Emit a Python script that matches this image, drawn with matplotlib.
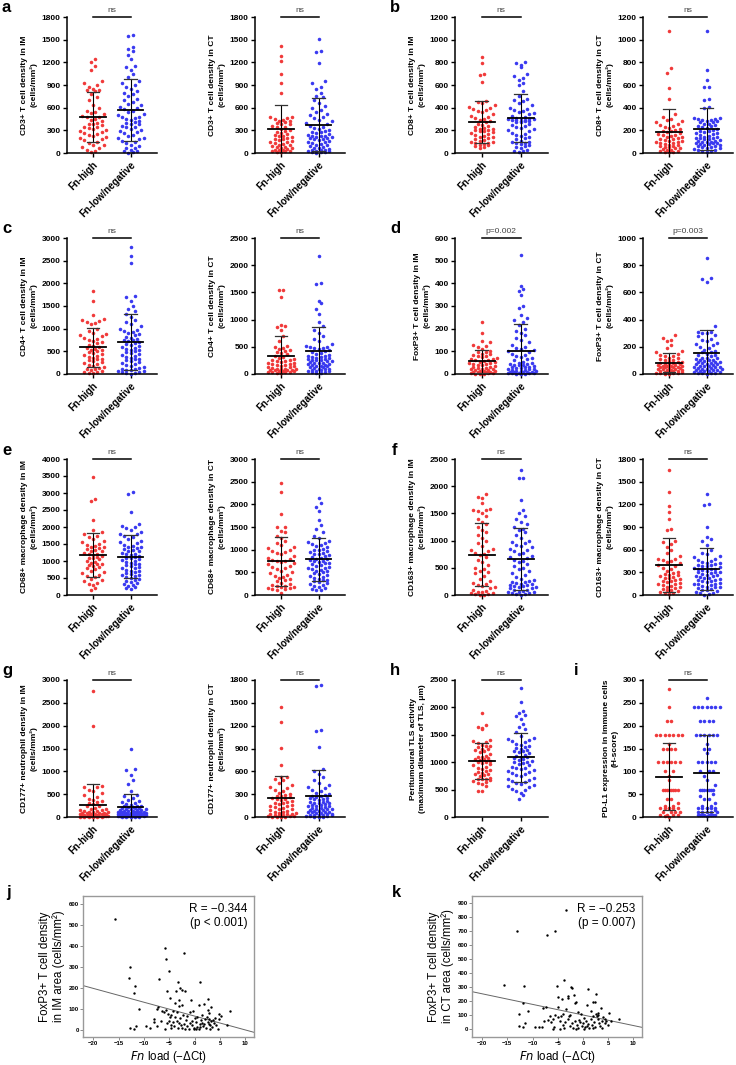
import numpy as np
import matplotlib
matplotlib.use('Agg')
from matplotlib import pyplot as plt

plt.rcParams['font.family'] = ['Liberation Sans', 'DejaVu Sans']

groups = ['Fn-high', 'Fn-low/negative']
red = '#f03a3a'
blue = '#3a3af0'

# ---- data (cells/mm2 etc.) ----
cd3_im_high = [1250, 1200, 1150, 1100, 950, 920, 900, 870, 850, 840, 830, 820, 780, 740, 700, 640, 600, 560, 540, 530,
               510, 490, 480, 470, 450, 440, 420, 400, 390, 380, 370, 350, 340, 330, 320, 300, 290, 280, 260, 250,
               240, 230, 210, 200, 190, 170, 150, 130, 110, 100, 80, 60, 40, 20, 10]
cd3_im_low = [1560, 1555, 1400, 1380, 1350, 1300, 1250, 1150, 1140, 1100, 1050, 1000, 950, 930, 900, 880, 850, 820, 800, 780,
              750, 720, 700, 680, 650, 630, 610, 600, 580, 560, 540, 520, 500, 480, 470, 460, 450, 440, 420, 410,
              400, 390, 380, 360, 350, 340, 320, 300, 290, 280, 260, 240, 220, 200, 200, 180, 160, 150, 130, 110,
              90, 70, 60, 40, 30, 20, 10, 5]
cd3_ct_high = [1410, 1280, 1220, 1050, 930, 790, 480, 470, 460, 450, 440, 430, 420, 410, 400, 390, 380, 360, 350, 340,
               320, 300, 290, 280, 260, 250, 240, 230, 220, 210, 200, 190, 180, 170, 160, 150, 140, 130, 120, 110,
               100, 90, 80, 75, 70, 60, 50, 45, 40, 35, 30, 25, 20, 15, 10]
cd3_ct_low = [1510, 1350, 1340, 1190, 950, 920, 880, 850, 800, 760, 740, 700, 660, 620, 600, 570, 540, 520, 500, 480,
              460, 440, 420, 400, 380, 360, 340, 320, 300, 290, 280, 260, 250, 240, 230, 225, 220, 215, 210, 205,
              200, 190, 180, 170, 160, 150, 140, 130, 120, 110, 100, 90, 80, 70, 60, 50, 45, 40, 35, 30,
              25, 20, 15, 10, 10, 5, 280, 330]
cd8_im_high = [850, 790, 700, 690, 625, 460, 450, 440, 420, 410, 400, 390, 380, 370, 360, 340, 330, 320, 310, 300,
               290, 280, 270, 260, 250, 240, 230, 220, 215, 210, 205, 200, 195, 190, 185, 180, 170, 160, 150, 145,
               140, 130, 120, 115, 110, 100, 95, 90, 85, 80, 75, 70, 60, 50, 40]
cd8_im_low = [800, 790, 780, 760, 700, 680, 660, 640, 620, 600, 550, 500, 480, 470, 460, 440, 420, 400, 390, 380,
              370, 360, 350, 340, 330, 320, 310, 300, 300, 295, 290, 285, 280, 275, 270, 260, 250, 240, 230, 220,
              210, 200, 190, 180, 170, 160, 150, 140, 130, 120, 110, 100, 95, 90, 85, 80, 70, 60, 50, 40,
              30, 20, 15, 10, 290, 300, 310, 280]
cd8_ct_high = [1080, 750, 710, 575, 475, 340, 320, 300, 290, 280, 270, 260, 250, 240, 230, 220, 210, 200, 195, 190,
               185, 180, 170, 160, 155, 150, 145, 140, 130, 125, 120, 115, 110, 105, 100, 95, 90, 85, 80, 75,
               70, 65, 60, 55, 50, 45, 40, 35, 30, 25, 20, 15, 10, 8, 5]
cd8_ct_low = [1075, 730, 645, 585, 580, 480, 470, 410, 400, 310, 305, 300, 300, 295, 290, 285, 280, 275, 270, 260,
              250, 240, 230, 220, 210, 200, 195, 190, 185, 180, 175, 170, 160, 150, 145, 140, 135, 130, 120, 115,
              110, 105, 100, 95, 90, 85, 80, 75, 70, 65, 60, 55, 50, 45, 40, 35, 30, 25, 20, 15,
              10, 100, 90, 80, 120, 130, 260, 240]
cd4_im_high = [1830, 1600, 1300, 1220, 1200, 1180, 1150, 1120, 1100, 1000, 950, 900, 880, 860, 840, 800, 780, 760, 720, 700,
               680, 650, 620, 600, 580, 560, 540, 520, 500, 480, 460, 440, 420, 400, 380, 360, 340, 320, 300, 280,
               260, 240, 220, 200, 180, 160, 140, 120, 100, 90, 70, 50, 40, 30, 20]
cd4_im_low = [2810, 2600, 2440, 1730, 1700, 1600, 1500, 1430, 1400, 1320, 1250, 1200, 1150, 1100, 1050, 1000, 980, 950, 920, 900,
              880, 850, 820, 800, 780, 760, 740, 720, 700, 680, 660, 640, 620, 600, 580, 560, 540, 520, 500, 480,
              460, 440, 420, 400, 380, 360, 340, 320, 300, 280, 260, 240, 220, 200, 180, 160, 140, 120, 100, 90,
              80, 70, 60, 50, 40, 30, 20, 10]
cd4_ct_high = [1540, 1535, 1420, 900, 880, 860, 800, 700, 600, 520, 500, 480, 460, 440, 420, 400, 380, 360, 340, 320,
               300, 280, 260, 250, 240, 230, 220, 210, 200, 190, 180, 170, 160, 150, 140, 130, 120, 110, 100, 95,
               90, 85, 80, 75, 70, 65, 60, 55, 50, 45, 40, 35, 30, 25, 20]
cd4_ct_low = [2170, 1680, 1650, 1350, 1300, 1200, 1100, 950, 880, 800, 750, 700, 650, 600, 560, 520, 500, 490, 480, 470,
              460, 440, 420, 400, 380, 360, 340, 320, 300, 290, 280, 270, 260, 250, 240, 230, 220, 210, 200, 190,
              180, 170, 160, 150, 140, 130, 120, 110, 100, 90, 80, 70, 60, 50, 40, 30, 20, 10, 350, 330,
              310, 250, 200, 150, 100, 60]
foxp3_im_high = [228, 180, 145, 140, 130, 125, 120, 110, 100, 98, 95, 90, 88, 85, 80, 78, 75, 70, 68, 65,
                 62, 60, 58, 55, 52, 50, 48, 45, 42, 40, 38, 35, 32, 30, 28, 26, 24, 22, 20, 18,
                 16, 15, 14, 12, 10, 9, 8, 7, 6, 5, 4, 3, 2, 1, 0]
foxp3_im_low = [523, 390, 375, 365, 350, 300, 290, 260, 245, 240, 230, 215, 200, 190, 180, 170, 160, 150, 140, 130,
                120, 115, 110, 105, 100, 95, 90, 85, 80, 75, 70, 65, 60, 55, 50, 45, 42, 40, 38, 35,
                32, 30, 28, 25, 22, 20, 18, 16, 14, 12, 10, 9, 8, 7, 6, 5, 4, 3, 2, 1,
                0, 50, 40, 30, 20, 15, 10, 5]
foxp3_ct_high = [285, 265, 250, 240, 215, 190, 170, 160, 150, 140, 135, 130, 120, 115, 110, 105, 100, 95, 90, 85,
                 80, 78, 75, 72, 70, 68, 65, 62, 60, 58, 55, 52, 50, 48, 45, 42, 40, 38, 35, 32,
                 30, 28, 25, 22, 20, 18, 15, 12, 10, 8, 6, 4, 2, 0, 60]
foxp3_ct_low = [855, 705, 695, 675, 350, 310, 310, 305, 300, 290, 280, 260, 250, 240, 230, 220, 210, 200, 190, 180,
                170, 160, 150, 140, 130, 120, 115, 110, 105, 100, 95, 90, 85, 80, 75, 70, 65, 60, 55, 50,
                45, 40, 35, 30, 25, 20, 15, 10, 5, 0, 100, 90, 80, 70, 60, 50, 40, 30, 20, 10,
                5, 120, 140, 160, 60, 45, 30, 15]
cd68_im_high = [3480, 2820, 2760, 2220, 1920, 1850, 1800, 1750, 1700, 1650, 1600, 1550, 1500, 1480, 1450, 1420, 1400, 1380, 1350, 1320,
                1300, 1280, 1250, 1220, 1200, 1180, 1150, 1120, 1100, 1080, 1050, 1000, 980, 950, 920, 900, 880, 850, 820, 800,
                760, 720, 680, 640, 600, 560, 520, 480, 440, 400, 360, 320, 280, 200, 150]
cd68_im_low = [3040, 2980, 2440, 2080, 2040, 2000, 1960, 1900, 1850, 1800, 1780, 1750, 1700, 1650, 1600, 1560, 1520, 1480, 1450, 1420,
               1400, 1380, 1350, 1320, 1300, 1280, 1250, 1220, 1200, 1180, 1150, 1120, 1100, 1080, 1050, 1020, 1000, 980, 950, 920,
               900, 880, 850, 820, 800, 780, 750, 720, 700, 680, 650, 620, 600, 580, 550, 520, 500, 470, 440, 410,
               380, 350, 320, 290, 260, 230, 200, 180]
cd68_ct_high = [2470, 2280, 1790, 1500, 1490, 1420, 1380, 1300, 1250, 1200, 1150, 1100, 1050, 1040, 1000, 980, 950, 920, 900, 860,
                820, 800, 780, 760, 740, 720, 700, 680, 650, 620, 600, 570, 540, 500, 480, 450, 420, 400, 380, 350,
                320, 300, 270, 240, 220, 200, 190, 180, 170, 160, 150, 140, 130, 100, 50]
cd68_ct_low = [2130, 2040, 1950, 1850, 1650, 1550, 1450, 1380, 1300, 1250, 1200, 1180, 1150, 1120, 1100, 1080, 1050, 1020, 1000, 980,
               950, 920, 900, 880, 860, 840, 820, 800, 780, 760, 740, 720, 700, 680, 660, 640, 620, 600, 580, 560,
               540, 520, 500, 480, 460, 440, 420, 400, 380, 360, 340, 320, 300, 280, 260, 240, 220, 200, 180, 160,
               140, 120, 110, 900, 800, 700, 1000, 600]
cd163_im_high = [1850, 1800, 1780, 1700, 1580, 1570, 1560, 1550, 1500, 1450, 1400, 1350, 1300, 1250, 1200, 1150, 1100, 1050, 1000, 950,
                 900, 850, 820, 800, 780, 760, 740, 700, 650, 600, 550, 500, 480, 450, 420, 400, 350, 300, 250, 220,
                 200, 180, 160, 140, 120, 100, 80, 60, 50, 40, 30, 20, 10, 5, 0]
cd163_im_low = [2300, 2150, 2150, 1750, 1560, 1500, 1450, 1400, 1350, 1300, 1250, 1220, 1200, 1150, 1100, 1050, 1000, 980, 950, 920,
                900, 880, 850, 820, 800, 780, 750, 720, 700, 680, 650, 620, 600, 570, 540, 500, 470, 440, 400, 370,
                340, 300, 270, 240, 220, 200, 190, 180, 170, 160, 150, 140, 120, 100, 80, 60, 50, 40, 30, 20,
                10, 5, 250, 230, 210, 120, 90, 60]
cd163_ct_high = [1650, 1360, 1180, 1100, 1000, 870, 860, 720, 700, 680, 640, 600, 560, 520, 480, 470, 460, 450, 440, 420,
                 400, 380, 360, 340, 320, 300, 290, 280, 270, 260, 250, 240, 230, 220, 210, 200, 190, 180, 170, 160,
                 150, 140, 130, 120, 110, 100, 90, 80, 70, 60, 50, 40, 30, 20, 10]
cd163_ct_low = [1340, 1210, 1190, 900, 770, 740, 720, 660, 600, 560, 540, 520, 500, 480, 460, 450, 440, 430, 420, 410,
                400, 390, 380, 370, 360, 350, 340, 330, 320, 310, 300, 290, 280, 270, 260, 250, 240, 230, 220, 210,
                200, 190, 180, 170, 160, 150, 140, 130, 120, 110, 100, 90, 80, 70, 60, 50, 40, 30, 20, 10,
                5, 400, 300, 200, 100, 350, 250, 150]
cd177_im_high = [2760, 2000, 680, 660, 650, 600, 560, 520, 480, 440, 400, 380, 350, 320, 300, 280, 250, 230, 200, 180,
                 170, 160, 150, 140, 130, 120, 110, 100, 95, 90, 85, 80, 75, 70, 65, 60, 55, 50, 45, 40,
                 35, 30, 28, 25, 22, 20, 18, 15, 12, 10, 8, 6, 4, 2, 0]
cd177_im_low = [1490, 1050, 1030, 920, 800, 720, 560, 480, 460, 420, 380, 350, 320, 300, 280, 260, 250, 240, 230, 220,
                210, 200, 190, 180, 170, 160, 150, 140, 130, 120, 110, 100, 95, 90, 85, 80, 75, 70, 65, 60,
                55, 50, 45, 40, 35, 30, 25, 20, 15, 10, 5, 0, 150, 120, 100, 80, 60, 40, 20, 10,
                5, 200, 180, 130, 90, 50, 25, 15]
cd177_ct_high = [1450, 1250, 910, 680, 530, 520, 500, 480, 450, 420, 400, 380, 360, 340, 320, 300, 290, 280, 270, 260,
                 250, 240, 230, 220, 210, 200, 190, 180, 170, 160, 150, 140, 130, 120, 110, 100, 90, 80, 70, 60,
                 55, 50, 45, 40, 35, 30, 25, 20, 15, 10, 8, 5, 3, 2, 0]
cd177_ct_low = [1740, 1720, 1140, 1130, 920, 630, 600, 560, 520, 480, 450, 420, 400, 380, 360, 340, 320, 300, 290, 280,
                270, 260, 250, 240, 230, 220, 210, 200, 190, 180, 170, 160, 150, 140, 130, 120, 110, 100, 90, 80,
                70, 60, 50, 40, 30, 25, 20, 15, 10, 5, 0, 100, 80, 60, 40, 20, 10, 5, 150, 120,
                90, 70, 50, 30, 250, 200, 180, 160]
tls_high = [1900, 1680, 1650, 1620, 1600, 1400, 1380, 1360, 1350, 1320, 1300, 1280, 1250, 1220, 1200, 1180, 1150, 1120, 1100, 1080,
            1060, 1050, 1040, 1020, 1000, 980, 960, 940, 920, 900, 880, 860, 840, 820, 800, 790, 780, 760, 740, 720,
            700, 700, 690, 680, 660, 640, 620, 600, 1300, 1250, 1100, 1000, 560, 480, 470]
tls_low = [2360, 2100, 1930, 1900, 1870, 1850, 1780, 1700, 1650, 1600, 1550, 1480, 1450, 1420, 1400, 1380, 1360, 1340, 1320, 1300,
           1280, 1260, 1240, 1220, 1200, 1180, 1160, 1140, 1120, 1100, 1080, 1060, 1040, 1020, 1000, 980, 960, 940, 920, 900,
           880, 860, 840, 820, 800, 780, 760, 740, 720, 700, 680, 660, 640, 620, 600, 580, 560, 540, 520, 500,
           470, 440, 400, 320, 1100, 1000, 900, 1200]
pdl1_high = [280, 240, 210, 210, 180, 180, 180, 180, 180, 180, 180, 160, 150, 150, 150, 150, 120, 120, 120, 120,
             120, 120, 100, 100, 90, 80, 60, 60, 60, 60, 60, 60, 60, 60, 40, 40, 30, 25, 25, 20,
             20, 20, 20, 20, 20, 10, 10, 10, 10, 5, 5, 5, 5, 2, 0]
pdl1_low = [260, 240, 240, 240, 240, 240, 240, 240, 210, 210, 210, 210, 180, 180, 180, 180, 180, 180, 160, 150,
            150, 120, 120, 120, 120, 120, 100, 100, 100, 90, 60, 60, 60, 60, 60, 60, 60, 50, 40, 40,
            30, 20, 20, 20, 20, 20, 20, 10, 10, 10, 10, 10, 5, 5, 5, 5, 5, 5, 5, 5,
            140, 80, 70, 45, 25, 25, 15, 2]

# scatter j: FoxP3 in IM vs Fn load
j_x = [-15.7, -12.8, -13.0, -11.7, -11.9, -10.9, -12.7, -11.9, -11.5, -9.5, -8.7, -8.1, -8.1, -7.5, -7.1, -7.4, -7.2,
       -6.5, -6.0, -5.6, -5.8, -5.7, -5.1, -5.4, -4.8, -5.2, -4.9, -4.6, -5.5, -5.0, -4.6, -4.3, -5.8, -4.6, -4.2,
       -2.1, -3.3, -2.9, -2.5, -1.8, -3.7, -3.1, -3.9, -3.1, -2.5, -0.8, 1.0, 0.8, 1.9, 2.6, -3.5, -3.0, -2.7,
       -2.4, -2.0, -1.7, -1.5, -1.2, -0.9, -0.5, -0.2, 0.0, 0.3, 0.5, 0.8, 1.0, 1.3, 1.6, 1.9, 2.2, 2.4, 2.7,
       2.9, 3.1, 3.3, 3.5, 3.8, 4.1, 4.3, -1.5, -0.3, 0.4, 2.6, 2.9, 3.3, 3.6, 4.8, 5.2, 6.9, 6.3, 4.6, -3.8,
       -3.2, -1.0, 1.5, -6.6, -2.2, 2.0, 0.2, -2.8, -0.6, 1.1, 3.0, -4.0, -1.9, 4.9, 2.8, -3.4, -0.1, 1.5]
j_y = [526, 297, 248, 210, 174, 98, 6, 5, 17, 16, 6, 50, 35, 16, 242, 98, 110,
       87, 85, 95, 390, 338, 280, 182, 150, 75, 60, 70, 30, 40, 20, 35, 5, 8, 88,
       367, 226, 197, 190, 182, 182, 142, 126, 114, 118, 142, 229, 118, 123, 145, 40, 30, 20,
       10, 25, 45, 15, 5, 30, 20, 8, 55, 35, 12, 5, 25, 45, 15, 28, 8, 60, 35,
       50, 20, 42, 12, 30, 55, 22, 65, 90, 60, 95, 80, 110, 45, 75, 65, 90, 24, 5, 60,
       10, 85, 70, 40, 70, 50, 3, 55, 40, 12, 5, 15, 3, 50, 28, 85, 5, 30]
j_fit = (64.5, -6.6)          # intercept, slope
j_text = 'R = \u22120.344\n(p < 0.001)'

# scatter k: FoxP3 in CT vs Fn load
k_x = [-3.3, -13.0, -7.1, -5.6, -15.6, -11.7, -3.7, -5.2, -2.3, -2.1, -4.9, -4.2, -2.9, -3.0, -1.8, -1.3, -1.5,
       1.0, 2.5, 1.9, 2.3, -11.9, -8.0, -7.3, -12.7, -10.9, 0.7, -4.9, -3.3, -3.9, 3.6, 3.0, 5.2, 7.1, -12.6,
       -11.8, -11.5, -9.5, -8.8, -8.1, -6.0, -4.6, -7.0, -6.5, -6.0, -5.5, -5.0, -4.5, -4.0, -3.5, -3.0, -2.6,
       -2.2, -1.9, -1.6, -1.2, -0.9, -0.5, -0.2, 0.1, 0.4, 0.6, 0.9, 1.2, 1.5, 1.8, 2.1, 2.4, 2.7, 2.9, 3.1,
       3.4, 3.7, 4.0, 4.3, 4.6, 4.9, 5.5, 3.0, 2.6, -2.7, -0.3, 0.3, -1.0, 1.6, -4.3, -6.3, -7.8, -5.8, -3.8,
       -1.4, 0.2, 1.9, 3.8, 2.0, -0.7, 0.8, 4.4, -2.5]
k_y = [855, 700, 675, 703, 316, 306, 349, 311, 304, 292, 226, 216, 238, 221, 240, 192, 185,
       285, 249, 190, 197, 183, 154, 159, 107, 131, 169, 160, 140, 110, 154, 114, 112, 71, 19,
       17, 43, 12, 12, 12, 2, 0, 65, 90, 70, 100, 85, 60, 30, 50, 75, 20,
       45, 10, 60, 30, 5, 50, 25, 40, 15, 60, 35, 5, 75, 28, 50, 12, 95, 70, 40,
       20, 60, 85, 45, 55, 30, 60, 100, 105, 95, 110, 80, 120, 130, 95, 50, 60, 15, 8,
       3, 3, 5, 10, 90, 65, 22, 70, 100]
k_fit = (100.7, -7.58)
k_text = 'R = \u22120.253\n(p = 0.007)'

W, H = 736, 1065
fig = plt.figure(figsize=(W / 100, H / 100), dpi=100)
fig.patch.set_facecolor('white')


def add_ax(l, t, r, b):
    return fig.add_axes([l / W, 1 - b / H, (r - l) / W, (b - t) / H])


def swarm(ax, xc, vals, rowh, sp, maxn):
    # GraphPad-like: points grouped in rows of rowh pixels, spread side by side;
    # crowded rows are split into interleaved sub-rows of at most maxn points
    ys = ax.transData.transform(np.column_stack([np.full(len(vals), xc), vals]))[:, 1]
    px_unit = ax.transData.transform((1, 0))[0] - ax.transData.transform((0, 0))[0]
    y0 = ax.transData.transform((0, 0))[1]
    rows = np.floor((ys - y0) / rowh).astype(int)
    offs = np.zeros(len(vals))
    for r in np.unique(rows):
        idx = np.where(rows == r)[0]
        idx = idx[np.argsort(vals[idx], kind='stable')]
        nchunk = int(np.ceil(len(idx) / maxn))
        for k, chunk in enumerate(np.array_split(idx, nchunk)):
            n = len(chunk)
            pos = (np.arange(n) - (n - 1) / 2) * sp + (sp / 2 if k % 2 else 0)
            order = np.argsort(np.abs(pos), kind='stable')
            offs[chunk] = pos[order]
    return xc + offs / px_unit


def dot_panel(ax, high, low, ymax, step, ylabel, sig):
    ax.set_xlim(-0.69, 1.7)
    ax.set_ylim(0, ymax)
    for xc, vals, col in ((0, high, red), (1, low, blue)):
        vals = np.asarray(vals, float)
        xs = swarm(ax, xc, vals, 8.0, 4.3, 7)
        ax.scatter(xs, vals, s=6.5, c=col, linewidths=0, zorder=2, clip_on=False)
        m, sd = vals.mean(), vals.std(ddof=1)
        ax.plot([xc - 0.34, xc + 0.34], [m, m], color='k', lw=1.3, zorder=4)
        ax.plot([xc, xc], [m - sd, m + sd], color='k', lw=0.8, zorder=3)
        for yy in (m - sd, m + sd):
            ax.plot([xc - 0.17, xc + 0.17], [yy, yy], color='#333333', lw=0.9, zorder=3)
    ax.plot([0, 1], [ymax, ymax], color='k', lw=1.1, clip_on=False)
    ax.annotate(sig, xy=(0.5, ymax), xytext=(0, 2.5), textcoords='offset points',
                ha='center', va='bottom', fontsize=6, color='#444444')
    ax.set_yticks(np.arange(0, ymax + 1, step))
    ax.set_xticks([0, 1])
    ax.set_xticklabels(groups, rotation=45, ha='right', rotation_mode='anchor',
                       fontsize=7, fontweight='bold')
    for lab in ax.get_yticklabels():
        lab.set_fontweight('bold')
    ax.tick_params(axis='y', labelsize=6, length=3, width=1, pad=1.5)
    ax.tick_params(axis='x', length=3, width=1, pad=2)
    for s in ('top', 'right'):
        ax.spines[s].set_visible(False)
    for s in ('left', 'bottom'):
        ax.spines[s].set_linewidth(1.1)
    ax.set_ylabel(ylabel, fontsize=6, fontweight='bold', labelpad=3, linespacing=1.3)


def scatter_panel(ax, x, y, fit, text, ylim, ymax_tick, ylabel):
    ax.set_xlim(-22, 11.7)
    ax.set_ylim(*ylim)
    ax.scatter(x, y, s=3, c='k', linewidths=0, zorder=3)
    xx = np.array([-22, 11.7])
    ax.plot(xx, fit[0] + fit[1] * xx, color='#666666', lw=0.7, zorder=2)
    ax.text(0.96, 0.95, text, transform=ax.transAxes, ha='right', va='top', fontsize=8.5,
            linespacing=1.2)
    ax.set_xticks(np.arange(-20, 11, 5))
    ax.set_yticks(np.arange(0, ymax_tick + 1, 100))
    for lab in ax.get_xticklabels() + ax.get_yticklabels():
        lab.set_fontweight('bold')
    ax.tick_params(labelsize=4.3, length=2, width=0.6, color='#777777', pad=1)
    for s in ax.spines.values():
        s.set_color('#999999')
        s.set_linewidth(1)
    ax.set_ylabel(ylabel, fontsize=8.3, labelpad=3, linespacing=1.1)
    ax.set_xlabel('$\\it{Fn}$ load (\u2212\u0394Ct)', fontsize=8.3, labelpad=2)


cols = [(67, 157), (255, 345), (455, 548), (643, 733)]
rows = [(17, 153), (238, 374), (459, 595), (680, 817)]

panels = [
    (0, 0, cd3_im_high, cd3_im_low, 1800, 300, 'CD3+ T cell density in IM\n(cells/mm\u00b2)', 'ns'),
    (0, 1, cd3_ct_high, cd3_ct_low, 1800, 300, 'CD3+ T cell density in CT\n(cells/mm\u00b2)', 'ns'),
    (0, 2, cd8_im_high, cd8_im_low, 1200, 200, 'CD8+ T cell density in IM\n(cells/mm\u00b2)', 'ns'),
    (0, 3, cd8_ct_high, cd8_ct_low, 1200, 200, 'CD8+ T cell density in CT\n(cells/mm\u00b2)', 'ns'),
    (1, 0, cd4_im_high, cd4_im_low, 3000, 500, 'CD4+ T cell density in IM\n(cells/mm\u00b2)', 'ns'),
    (1, 1, cd4_ct_high, cd4_ct_low, 2500, 500, 'CD4+ T cell density in CT\n(cells/mm\u00b2)', 'ns'),
    (1, 2, foxp3_im_high, foxp3_im_low, 600, 100, 'FoxP3+ T cell density in IM\n(cells/mm\u00b2)', 'p=0.002'),
    (1, 3, foxp3_ct_high, foxp3_ct_low, 1000, 200, 'FoxP3+ T cell density in CT\n(cells/mm\u00b2)', 'p=0.003'),
    (2, 0, cd68_im_high, cd68_im_low, 4000, 500, 'CD68+ macrophage density in IM\n(cells/mm\u00b2)', 'ns'),
    (2, 1, cd68_ct_high, cd68_ct_low, 3000, 500, 'CD68+ macrophage density in CT\n(cells/mm\u00b2)', 'ns'),
    (2, 2, cd163_im_high, cd163_im_low, 2500, 500, 'CD163+ macrophage density in IM\n(cells/mm\u00b2)', 'ns'),
    (2, 3, cd163_ct_high, cd163_ct_low, 1800, 300, 'CD163+ macrophage density in CT\n(cells/mm\u00b2)', 'ns'),
    (3, 0, cd177_im_high, cd177_im_low, 3000, 500, 'CD177+ neutrophil density in IM\n(cells/mm\u00b2)', 'ns'),
    (3, 1, cd177_ct_high, cd177_ct_low, 1800, 300, 'CD177+ neutrophil density in CT\n(cells/mm\u00b2)', 'ns'),
    (3, 2, tls_high, tls_low, 2500, 500, 'Peritumoural TLS activity\n(maximum diameter of TLS, \u03bcm)', 'ns'),
    (3, 3, pdl1_high, pdl1_low, 300, 50, 'PD-L1 expression in immune cells\n(H-score)', 'ns'),
]

for r, c, hi, lo, ymax, step, ylab, sig in panels:
    ax = add_ax(cols[c][0], rows[r][0], cols[c][1], rows[r][1])
    dot_panel(ax, hi, lo, ymax, step, ylab, sig)

axj = add_ax(83, 896, 254, 1037)
scatter_panel(axj, j_x, j_y, j_fit, j_text, (-35, 636), 600,
              'FoxP3+ T cell density\nin IM area (cells/mm\u00b2)')
axk = add_ax(472, 896, 642, 1037)
scatter_panel(axk, k_x, k_y, k_fit, k_text, (-57, 952), 900,
              'FoxP3+ T cell density\nin CT area (cells/mm\u00b2)')

letters = [('a', 2, 12), ('b', 390, 12), ('c', 2, 233), ('d', 390, 233), ('e', 2, 455), ('f', 392, 455),
           ('g', 2, 675), ('h', 390, 675), ('i', 574, 675), ('j', 6, 897), ('k', 392, 897)]
for t, x, y in letters:
    fig.text(x / W, 1 - y / H, t, fontsize=12, fontweight='bold', va='baseline')

fig.savefig('out.png', dpi=100)
